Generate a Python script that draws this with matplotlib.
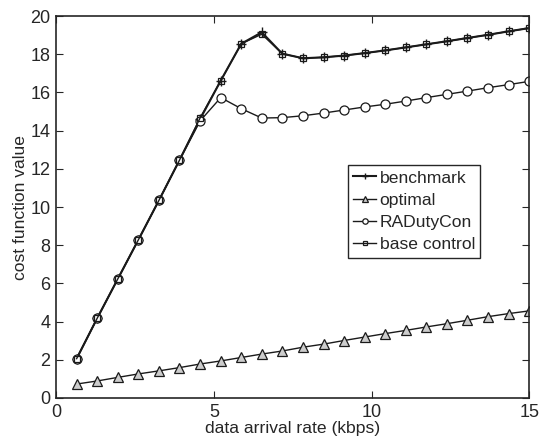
import matplotlib
matplotlib.use("Agg")
import matplotlib.pyplot as plt

plt.rcParams['font.family'] = ['Liberation Sans', 'DejaVu Sans']

# data
rate = [0.65, 1.30, 1.96, 2.61, 3.26, 3.91, 4.57, 5.22, 5.87, 6.52, 7.17, 7.83,
        8.48, 9.13, 9.78, 10.43, 11.09, 11.74, 12.39, 13.04, 13.70, 14.35, 15.0]
benchmark = [2.06, 4.17, 6.25, 8.29, 10.35, 12.45, 14.62, 16.62, 18.55, 19.15,
             18.03, 17.79, 17.84, 17.93, 18.06, 18.20, 18.36, 18.52, 18.68,
             18.85, 19.02, 19.20, 19.37]
optimal = [0.73, 0.89, 1.08, 1.26, 1.42, 1.59, 1.78, 1.94, 2.12, 2.30, 2.46,
           2.66, 2.82, 3.01, 3.19, 3.37, 3.54, 3.72, 3.89, 4.07, 4.26, 4.42, 4.56]
radutycon = [2.06, 4.17, 6.25, 8.29, 10.35, 12.45, 14.52, 15.73, 15.15, 14.66,
             14.68, 14.78, 14.92, 15.08, 15.24, 15.38, 15.55, 15.73, 15.90,
             16.07, 16.25, 16.41, 16.58]
base_control = [2.06, 4.17, 6.25, 8.29, 10.35, 12.45, 14.68, 16.62, 18.55, 19.05,
                18.03, 17.79, 17.84, 17.93, 18.06, 18.20, 18.36, 18.52, 18.68,
                18.85, 19.02, 19.20, 19.37]

fig = plt.figure(figsize=(5.45, 4.4), dpi=100)
ax = fig.add_axes([0.103, 0.0955, 0.868, 0.868])

ax.plot(rate, benchmark, '-', color='0.1', marker='+', ms=7, mew=1.0, lw=1.5, label='benchmark')
ax.plot(rate, optimal, '-', color='0.1', marker='^', ms=6.5, mfc='0.8', mew=0.9, lw=1.0, label='optimal')
ax.plot(rate, radutycon, '-', color='0.1', marker='o', ms=6.5, mfc='white', mew=0.9, lw=1.0, label='RADutyCon')
ax.plot(rate, base_control, '-', color='0.1', marker='s', ms=5, mfc='none', mew=0.9, lw=1.0, label='base control')

ax.set_xlim(0, 15)
ax.set_ylim(0, 20)
ax.set_xticks([0, 5, 10, 15])
ax.set_yticks(range(0, 21, 2))
ax.tick_params(direction='in', top=True, right=True, labelsize=13, length=5, pad=4,
               labelcolor='0.15', color='0.15')
for s in ax.spines.values():
    s.set_linewidth(1.2)
    s.set_color('0.15')

ax.set_xlabel('data arrival rate (kbps)', fontsize=12.6, labelpad=0, color='0.15')
ax.set_ylabel('cost function value', fontsize=12.6, labelpad=2, color='0.15')

leg = ax.legend(loc='upper left', bbox_to_anchor=(0.617, 0.61), fontsize=12.6,
                markerscale=0.6, handlelength=1.3, handletextpad=0.2,
                labelspacing=0.4, borderpad=0.3, fancybox=False, framealpha=1,
                edgecolor='0.15', borderaxespad=0)
leg.get_frame().set_linewidth(1.0)
for t in leg.get_texts():
    t.set_color('0.15')

fig.savefig('out.png', dpi=100)
